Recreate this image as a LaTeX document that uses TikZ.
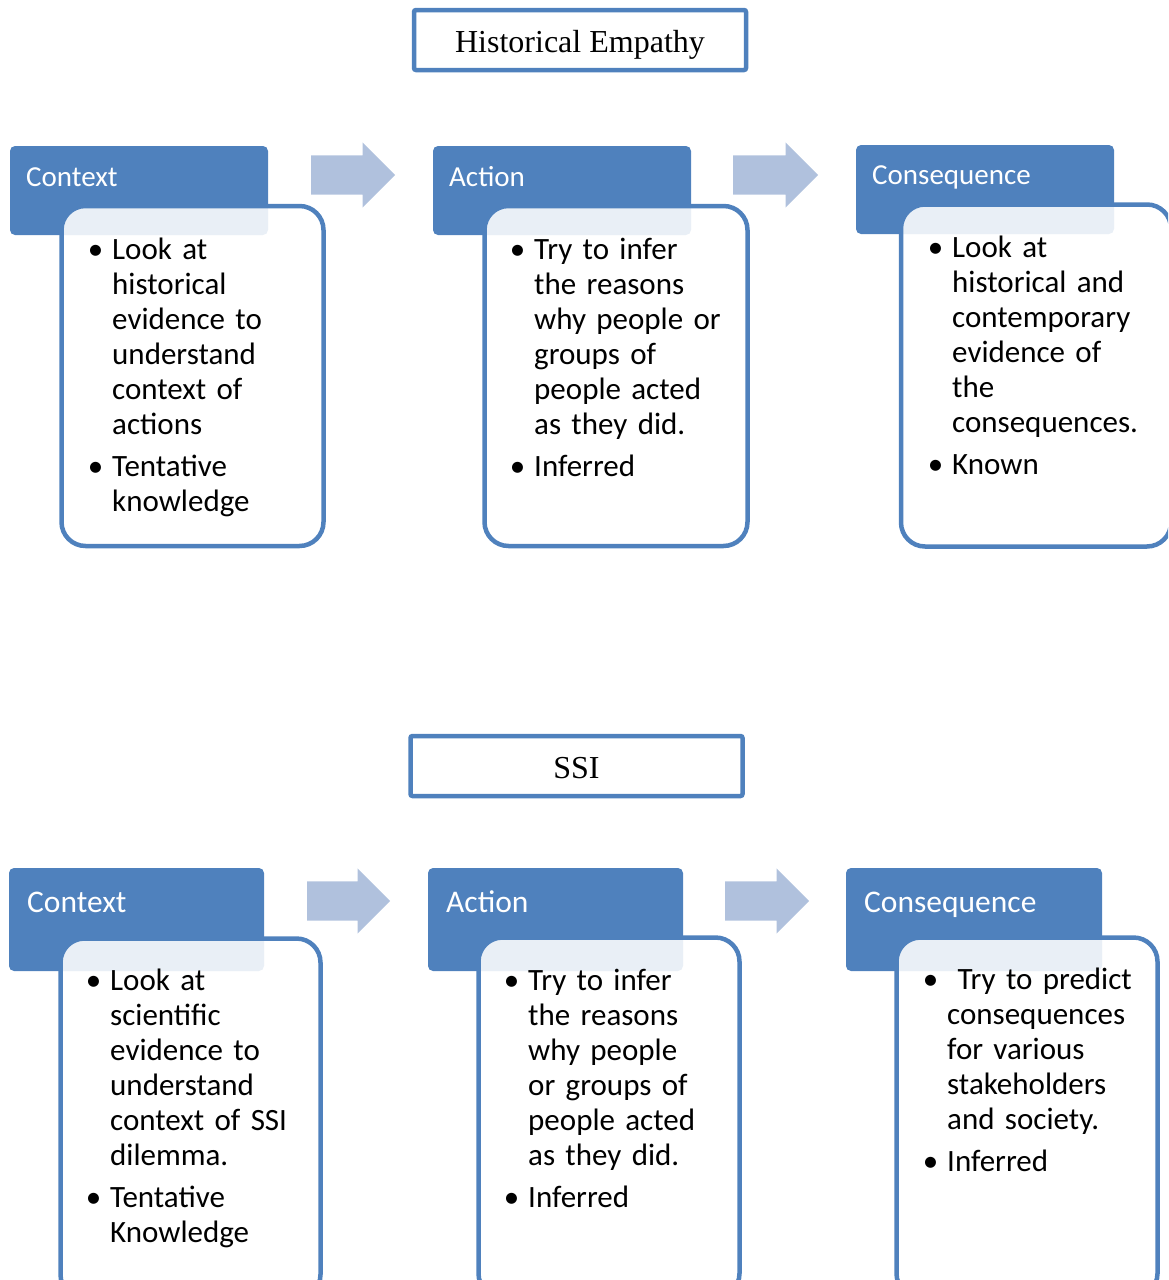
\documentclass[tikz,border=0pt]{standalone}
\usepackage{fontspec}
\setmainfont{Carlito}
\newfontfamily\titlefont{Liberation Serif}
\usetikzlibrary{shapes.arrows}

\definecolor{hblue}{RGB}{79,129,189}
\definecolor{ablue}{RGB}{176,193,221}

\newcommand\bul{\leavevmode\llap{\textbullet\hskip 9pt}}

\tikzset{
  titlebox/.style={draw=hblue,line width=4.5pt,rounded corners=2pt,fill=white,
    minimum width=332pt,minimum height=60pt,inner sep=0pt,
    font=\titlefont\fontsize{32}{36}\selectfont,text height=24pt,text depth=0pt},
  headbox/.style={fill=hblue,rounded corners=5pt,inner sep=0pt},
  headtxt/.style={text=white,inner sep=0pt,anchor=base west},
  bodybox/.style={draw=hblue,line width=4.5pt,rounded corners=24pt,fill=white,
    fill opacity=0.88,inner sep=0pt},
  bodytxt/.style={inner sep=0pt,anchor=base west,text width=240pt,align=left,
    font=\fontsize{31}{35}\selectfont},
  flowarrow/.style={single arrow,fill=ablue,inner xsep=0pt,inner ysep=19.5pt,
    single arrow head extend=13pt,anchor=tail},
}

\begin{document}
\begin{tikzpicture}[x=1pt,y=-1pt]
	\useasboundingbox (0,0) rectangle (1168,1280);
	\clip (0,0) rectangle (1168,1280);
	% Historical Empathy
	\node[titlebox] (heT) at (580,40) {Historical Empathy};
	\node[headbox,minimum width=258pt,minimum height=89pt] (heCtxH) at (139,190.5) {};
	\node[headbox,minimum width=258pt,minimum height=89pt] (heActH) at (562,190.5) {};
	\node[headbox,minimum width=258pt,minimum height=89pt] (heConH) at (985,189.5) {};
	\node[flowarrow,minimum height=84pt] (heA1) at (311,175) {};
	\node[flowarrow,minimum height=85pt] (heA2) at (733,175) {};
	\node[bodybox,minimum width=262pt,minimum height=340pt] (heCtxB) at (192.5,376) {};
	\node[bodybox,minimum width=263pt,minimum height=340pt] (heActB) at (616,376) {};
	\node[bodybox,minimum width=270pt,minimum height=342pt] (heConB) at (1036,375.5) {};
	\node[headtxt,font=\fontsize{29}{34}\selectfont] (heCtxL) at (26,186) {Context};
	\node[headtxt,font=\fontsize{29}{34}\selectfont] (heActL) at (449,186) {Action};
	\node[headtxt,font=\fontsize{29}{34}\selectfont] (heConL) at (872,184) {Consequence};
	\node[bodytxt] (heCtxT) at (112,259) {\bul Look at\\historical\\evidence to\\understand\\context of\\actions\\[7pt]\bul Tentative\\knowledge};
	\node[bodytxt] (heActT) at (534,259) {\bul Try to infer\\the reasons\\why people or\\groups of\\people acted\\as they did.\\[7pt]\bul Inferred};
	\node[bodytxt] (heConT) at (952,257) {\bul Look at\\historical and\\contemporary\\evidence of\\the\\consequences.\\[7pt]\bul Known};

	% SSI
	\node[titlebox] (ssiT) at (576.5,766) {SSI};
	\node[headbox,minimum width=255pt,minimum height=103pt] (ssiCtxH) at (136.5,919.5) {};
	\node[headbox,minimum width=255pt,minimum height=103pt] (ssiActH) at (555.5,919.5) {};
	\node[headbox,minimum width=256pt,minimum height=103pt] (ssiConH) at (974,919.5) {};
	\node[flowarrow,minimum height=83pt] (ssiA1) at (307,901) {};
	\node[flowarrow,minimum height=84pt] (ssiA2) at (725,901) {};
	\node[bodybox,minimum width=260pt,minimum height=360pt] (ssiCtxB) at (190.5,1118.5) {};
	\node[bodybox,minimum width=261pt,minimum height=360pt] (ssiActB) at (609,1117.5) {};
	\node[bodybox,minimum width=261pt,minimum height=360pt] (ssiConB) at (1027,1117.5) {};
	\node[headtxt,font=\fontsize{31.5}{36}\selectfont] (ssiCtxL) at (27,912) {Context};
	\node[headtxt,font=\fontsize{31.5}{36}\selectfont] (ssiActL) at (446,912) {Action};
	\node[headtxt,font=\fontsize{31.5}{36}\selectfont] (ssiConL) at (864,912) {Consequence};
	\node[bodytxt] (ssiCtxT) at (110,990) {\bul Look at\\scientific\\evidence to\\understand\\context of SSI\\dilemma.\\[7pt]\bul Tentative\\Knowledge};
	\node[bodytxt] (ssiActT) at (528,990) {\bul Try to infer\\the reasons\\why people\\or groups of\\people acted\\as they did.\\[7pt]\bul Inferred};
	\node[bodytxt] (ssiConT) at (947,989) {\bul\ Try to predict\\consequences\\for various\\stakeholders\\and society.\\[7pt]\bul Inferred};
\end{tikzpicture}
\end{document}
